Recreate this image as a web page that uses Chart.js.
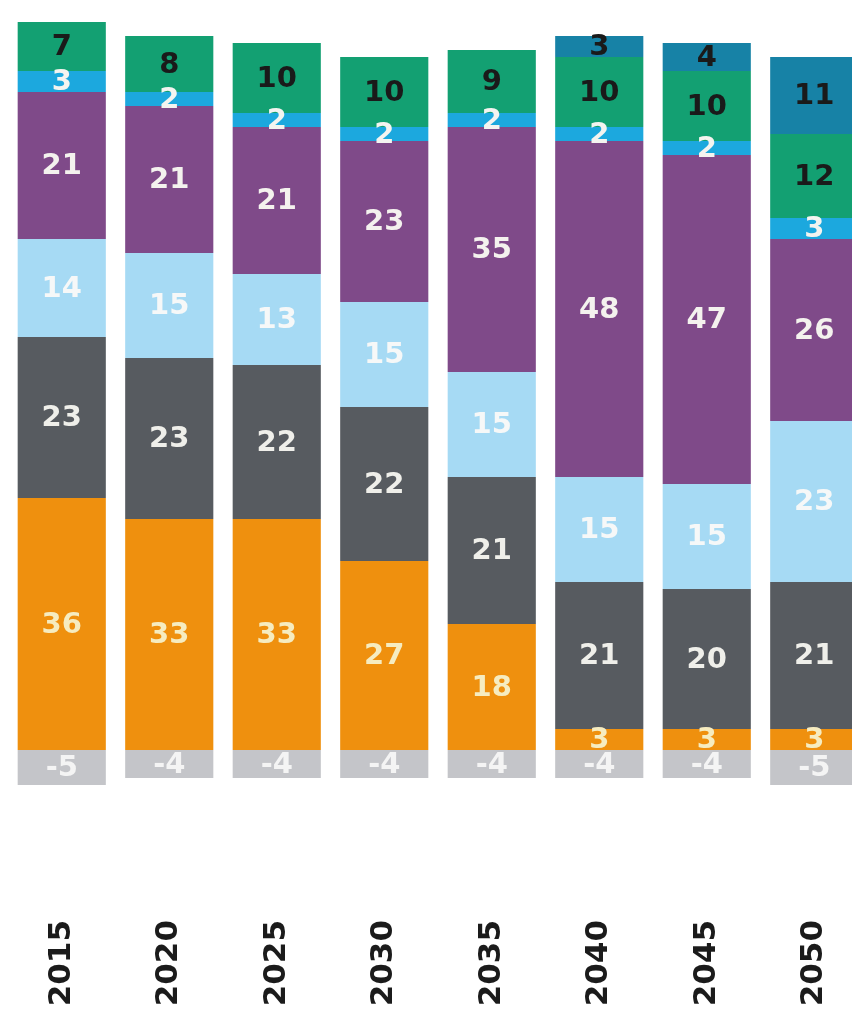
<!DOCTYPE html>
<html>
<head>
<meta charset="utf-8">
<script src="https://cdn.jsdelivr.net/npm/chart.js@4"></script>
<style>
  html, body { margin: 0; padding: 0; background: #fff; overflow: hidden; }
  #wrap { width: 852px; height: 1011px; overflow: hidden; }
</style>
</head>
<body>
<div id="wrap"><canvas id="chart" width="880" height="1011"></canvas></div>
<script>
const years = ['2015', '2020', '2025', '2030', '2035', '2040', '2045', '2050'];

// series, bottom to top
const negative  = [-5, -4, -4, -4, -4, -4, -4, -5];
const orange    = [36, 33, 33, 27, 18, 3, 3, 3];
const darkGray  = [23, 23, 22, 22, 21, 21, 20, 21];
const lightBlue = [14, 15, 13, 15, 15, 15, 15, 23];
const purple    = [21, 21, 21, 23, 35, 48, 47, 26];
const cyan      = [3, 2, 2, 2, 2, 2, 2, 3];
const green     = [7, 8, 10, 10, 9, 10, 10, 12];
const teal      = [null, null, null, null, null, 3, 4, 11];

const series = [
  { data: negative,  color: '#c4c5c9', text: '#f4f4f4' },
  { data: orange,    color: '#ef900e', text: '#f6ecc0' },
  { data: darkGray,  color: '#575b60', text: '#efefea' },
  { data: lightBlue, color: '#a6daf4', text: '#f6f8f8' },
  { data: purple,    color: '#7f4a89', text: '#f4f2ee' },
  { data: cyan,      color: '#1ca8de', text: '#f4f4f0' },
  { data: green,     color: '#13a072', text: '#1a1a1a' },
  { data: teal,      color: '#1782a6', text: '#1a1a1a' }
];

// draws the value in the middle of each segment
const segmentLabels = {
  id: 'segmentLabels',
  afterDatasetsDraw(chart) {
    const ctx = chart.ctx;
    ctx.save();
    ctx.font = 'bold 29px "DejaVu Sans"';
    ctx.textAlign = 'center';
    ctx.textBaseline = 'middle';
    chart.data.datasets.forEach((ds, i) => {
      const meta = chart.getDatasetMeta(i);
      meta.data.forEach((bar, j) => {
        const v = ds.data[j];
        if (v === null || v === undefined) return;
        const p = bar.getProps(['x', 'y', 'base'], true);
        ctx.fillStyle = series[i].text;
        ctx.fillText(String(v), p.x, (p.y + p.base) / 2 + 1);
      });
    });
    ctx.restore();
  }
};

new Chart(document.getElementById('chart'), {
  type: 'bar',
  data: {
    labels: years,
    datasets: series.map(s => ({
      data: s.data,
      backgroundColor: s.color,
      borderWidth: 0,
      categoryPercentage: 1,
      barPercentage: 0.82
    }))
  },
  options: {
    responsive: false,
    animation: false,
    layout: { padding: { left: 8, right: 12, top: 8, bottom: 0 } },
    plugins: {
      legend: { display: false },
      tooltip: { enabled: false }
    },
    scales: {
      x: {
        stacked: true,
        grid: { display: false },
        border: { display: false },
        ticks: {
          color: '#1b1b1b',
          font: { family: 'DejaVu Sans', weight: 'bold', size: 31 },
          minRotation: 90,
          maxRotation: 90,
          padding: 22
        },
        afterFit: scale => { scale.height = 121; }
      },
      y: {
        stacked: true,
        display: false,
        min: -20,
        max: 106
      }
    }
  },
  plugins: [segmentLabels]
});
</script>
</body>
</html>
